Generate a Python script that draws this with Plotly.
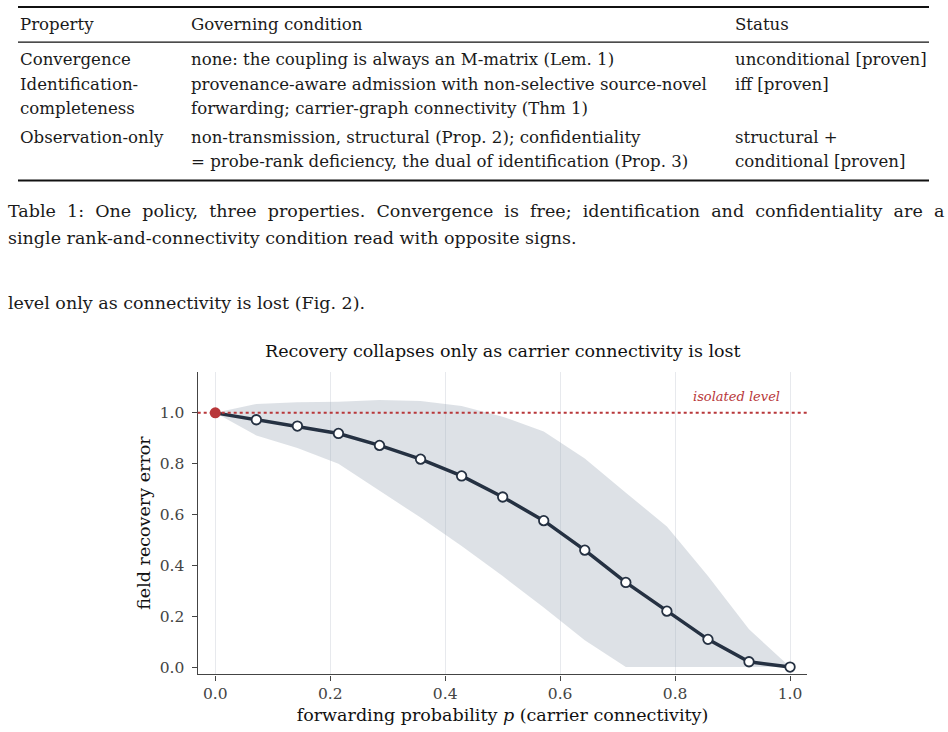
import plotly.graph_objects as go

W, H = 948, 732

# ---------------- data ----------------
p_values = [i / 14 for i in range(15)]
mean_error = [1.0, 0.973, 0.948, 0.919, 0.872, 0.818, 0.752, 0.669, 0.576, 0.460,
              0.333, 0.220, 0.109, 0.021, 0.0]
band_upper = [1.0, 1.035, 1.042, 1.044, 1.051, 1.047, 1.027, 0.985, 0.927, 0.820,
              0.686, 0.553, 0.358, 0.149, 0.0]
band_lower = [1.0, 0.911, 0.862, 0.800, 0.693, 0.588, 0.476, 0.358, 0.234, 0.106,
              0.0, 0.0, 0.0, 0.0, 0.0]
isolated_level = 1.0
x_ticks = [0.0, 0.2, 0.4, 0.6, 0.8, 1.0]
y_ticks = [0.0, 0.2, 0.4, 0.6, 0.8, 1.0]

table_header = ["Property", "Governing condition", "Status"]
table_rows = [
    [["Convergence"], ["none: the coupling is always an M-matrix (Lem. 1)"], ["unconditional [proven]"]],
    [["Identification-", "completeness"],
     ["provenance-aware admission with non-selective source-novel", "forwarding; carrier-graph connectivity (Thm 1)"],
     ["iff [proven]"]],
    [["Observation-only"],
     ["non-transmission, structural (Prop. 2); confidentiality", "= probe-rank deficiency, the dual of identification (Prop. 3)"],
     ["structural +", "conditional [proven]"]],
]
caption_lines = [
    "Table 1: One policy, three properties. Convergence is free; identification and confidentiality are a",
    "single rank-and-connectivity condition read with opposite signs.",
]
body_line = "level only as connectivity is lost (Fig. 2)."

chart_title = "Recovery collapses only as carrier connectivity is lost"
x_title = "forwarding probability <i>p</i> (carrier connectivity)"
y_title = "field recovery error"

# ---------------- helpers ----------------
def px(x):
    return x / W


def py(y):
    return 1 - y / H


FAM = "DejaVu Serif, serif"
INK = "#1a1a1a"
LINE = "#253142"
RED = "#b8373a"
AXIS = "#444444"


def font(size, color=INK):
    return dict(family=FAM, size=size, color=color)


fig = go.Figure()

fig.add_trace(go.Scatter(
    x=p_values + p_values[::-1],
    y=band_upper + band_lower[::-1],
    fill="toself", fillcolor="rgba(160,172,186,0.36)",
    line=dict(width=0), mode="lines", hoverinfo="skip", showlegend=False,
))
fig.add_trace(go.Scatter(
    x=p_values, y=mean_error, mode="lines",
    line=dict(color=LINE, width=3.5), showlegend=False,
))
fig.add_trace(go.Scatter(
    x=p_values[1:], y=mean_error[1:], mode="markers",
    marker=dict(size=9.5, color="white", line=dict(color=LINE, width=1.8)),
    showlegend=False,
))
fig.add_shape(type="line", xref="x domain", x0=0, x1=1, yref="y",
              y0=isolated_level, y1=isolated_level,
              line=dict(color=RED, width=2, dash="dot"), layer="above")
fig.add_trace(go.Scatter(
    x=p_values[:1], y=mean_error[:1], mode="markers",
    marker=dict(size=11, color=RED, line=dict(width=0)), showlegend=False,
))
fig.add_annotation(x=0.986, y=isolated_level + 0.063, xref="x", yref="y",
                   text="<i>isolated level</i>", showarrow=False,
                   xanchor="right", yanchor="middle", font=font(13, RED))

fig.add_annotation(x=px(503), y=py(352), xref="paper", yref="paper",
                   text=chart_title, showarrow=False, xanchor="center", yanchor="middle",
                   font=font(17.5, "#111111"))

# ---------------- table ----------------
col_x = [18, 189, 733]
TSIZE = 16.6
for cx, txt in zip(col_x, table_header):
    fig.add_annotation(x=px(cx), y=py(25), xref="paper", yref="paper", text=txt,
                       showarrow=False, xanchor="left", yanchor="middle", font=font(TSIZE))
row_y = [[60], [85, 109], [138, 162]]
for r, row in enumerate(table_rows):
    for c, cell in enumerate(row):
        for k, line in enumerate(cell):
            fig.add_annotation(x=px(col_x[c]), y=py(row_y[r][k]), xref="paper", yref="paper",
                               text=line, showarrow=False, xanchor="left", yanchor="middle",
                               font=font(TSIZE))
for yy, wdt in [(7, 2), (42.3, 1.2), (181, 2)]:
    fig.add_shape(type="line", xref="paper", yref="paper", x0=px(18), x1=px(929),
                  y0=py(yy), y1=py(yy), line=dict(color="#111111", width=wdt))

# caption: first line is justified in the source, so its word gaps are widened
CSIZE = 17.5
justified_first = caption_lines[0].replace(" ", " \u00a0")
for yy, txt in zip([212, 239], [justified_first, caption_lines[1]]):
    fig.add_annotation(x=px(6), y=py(yy), xref="paper", yref="paper", text=txt,
                       showarrow=False, xanchor="left", yanchor="middle", font=font(CSIZE))
fig.add_annotation(x=px(6), y=py(304), xref="paper", yref="paper", text=body_line,
                   showarrow=False, xanchor="left", yanchor="middle", font=font(CSIZE))

# ---------------- axes ----------------
fig.update_xaxes(
    domain=[px(197.7), px(807.3)], range=[-0.0306, 1.030],
    tickvals=x_ticks, tickformat=".1f", ticks="outside", ticklen=5, tickwidth=1.2,
    tickcolor=AXIS, showline=True, linecolor=AXIS, linewidth=1.4, mirror=False,
    showgrid=True, gridcolor="#e7e9ed", gridwidth=1, zeroline=False,
    tickfont=font(15.5, AXIS),
    title=dict(text=x_title, standoff=6, font=font(17.5, "#111111")),
)
fig.update_yaxes(
    domain=[py(676.3), py(372.7)], range=[-0.029, 1.162],
    tickvals=y_ticks, tickformat=".1f", ticks="outside", ticklen=5, tickwidth=1.2,
    tickcolor=AXIS, showline=True, linecolor=AXIS, linewidth=1.4, mirror=False,
    showgrid=False, zeroline=False, ticklabelstandoff=4,
    tickfont=font(15.5, AXIS),
    title=dict(text=y_title, standoff=4, font=font(17.5, "#111111")),
)

fig.update_layout(
    width=W, height=H, margin=dict(l=0, r=0, t=0, b=0),
    paper_bgcolor="white", plot_bgcolor="white", showlegend=False,
    font=dict(family=FAM),
)

fig.write_html("out.html")
